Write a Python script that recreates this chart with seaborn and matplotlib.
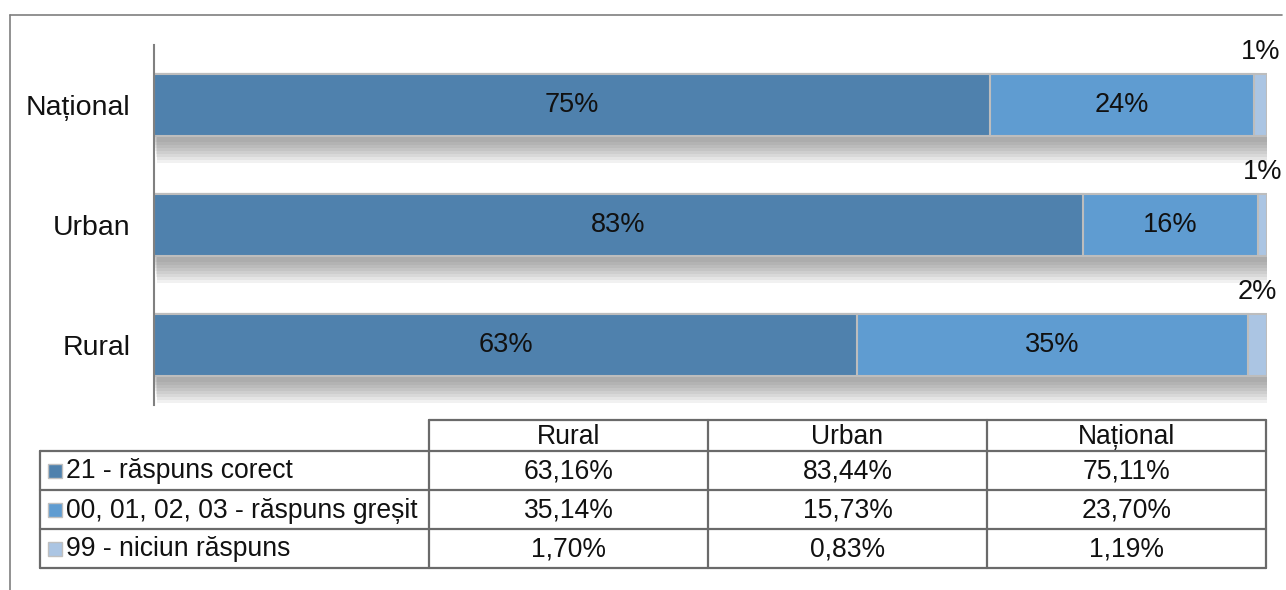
import numpy as np
import pandas as pd
import matplotlib
matplotlib.use("Agg")
import matplotlib.pyplot as plt
import matplotlib.patheffects as pe
from matplotlib.patches import Rectangle
import seaborn as sns

# ---------------- data ----------------
regions = ["Național", "Urban", "Rural"]
correct = [75.11, 83.44, 63.16]      # 21 - răspuns corect
wrong = [23.70, 15.73, 35.14]        # 00, 01, 02, 03 - răspuns greșit
no_answer = [1.19, 0.83, 1.70]       # 99 - niciun răspuns

series_names = ["21 - răspuns corect", "00, 01, 02, 03 - răspuns greșit", "99 - niciun răspuns"]
table_cols = ["Rural", "Urban", "Național"]

colors = ["#4F81AD", "#5F9CD1", "#ABC5E3"]
edge = "#BDBDBD"

sns.set_theme(style="white")
plt.rcParams["font.family"] = ["Liberation Sans", "DejaVu Sans"]
FS = 19.5
FS_CAT = 20.5
FS_TAB = 19.1

df = pd.DataFrame({"region": regions, "correct": correct, "wrong": wrong, "none": no_answer})
df["cum2"] = df["correct"] + df["wrong"]
df["cum3"] = df["cum2"] + df["none"]

W, H = 1286, 590
fig = plt.figure(figsize=(W / 100, H / 100), dpi=100)

def px(x0, y0, x1, y1):
    return [x0 / W, 1 - y1 / H, (x1 - x0) / W, (y1 - y0) / H]

ax = fig.add_axes(px(154, 45, 1267, 405))

bw = 0.51
sns.barplot(data=df, x="cum3", y="region", order=regions, orient="h", color=colors[2],
            width=bw, edgecolor=edge, linewidth=1.5, saturation=1, ax=ax)
sns.barplot(data=df, x="cum2", y="region", order=regions, orient="h", color=colors[1],
            width=bw, edgecolor=edge, linewidth=1.5, saturation=1, ax=ax)
sns.barplot(data=df, x="correct", y="region", order=regions, orient="h", color=colors[0],
            width=bw, edgecolor=edge, linewidth=1.5, saturation=1, ax=ax)

# soft shadow below the full bars (offsets in points)
shadow = []
for k in range(8):
    off_px = 6 + 3 * k
    shadow.append(pe.SimplePatchShadow(offset=(0.3 * k, -off_px * 0.72),
                                       shadow_rgbFace="#6A6A6A", alpha=0.09))
shadow.append(pe.Normal())
for p in ax.containers[0].patches:
    p.set_path_effects(shadow)

# labels
for i, r in df.iterrows():
    ax.text(r["correct"] / 2, i, f"{r['correct']:.0f}%", ha="center", va="center", fontsize=FS, color="#111111")
    ax.text(r["correct"] + r["wrong"] / 2, i, f"{r['wrong']:.0f}%", ha="center", va="center", fontsize=FS, color="#111111")
    ax.annotate(f"{r['none']:.0f}%", xy=(r["cum2"] + r["none"] / 2, i - bw / 2), xytext=(0, 7),
                textcoords="offset points", ha="center", va="bottom", fontsize=FS, color="#111111",
                annotation_clip=False)

ax.set_xlim(0, 100)
ax.set_ylim(2.5, -0.5)
ax.set_xlabel("")
ax.set_ylabel("")
ax.set_xticks([])
ax.tick_params(axis="y", length=0, pad=17, labelsize=FS_CAT, labelcolor="#111111")
for s in ["top", "right", "bottom"]:
    ax.spines[s].set_visible(False)
ax.spines["left"].set_color("#808080")
ax.spines["left"].set_linewidth(1.5)
ax.patch.set_alpha(0)

# ---------------- overlay: frame + data table ----------------
ov = fig.add_axes([0, 0, 1, 1])
ov.set_xlim(0, W)
ov.set_ylim(H, 0)
ov.axis("off")
ov.set_zorder(-1)

lc = "#6A6A6A"
ov.plot([10, 1282], [15, 15], color="#7F7F7F", lw=1.2)
ov.plot([10, 10], [15, 590], color="#7F7F7F", lw=1.2)

col_x = [40, 429, 708, 987, 1266]
row_y = [420, 451, 490, 529, 568]
tlw = 1.6
ov.plot([col_x[1], col_x[-1]], [row_y[0], row_y[0]], color=lc, lw=tlw)
for y in row_y[1:]:
    ov.plot([col_x[0], col_x[-1]], [y, y], color=lc, lw=tlw)
ov.plot([col_x[0], col_x[0]], [row_y[1], row_y[-1]], color=lc, lw=tlw)
for x in col_x[1:]:
    ov.plot([x, x], [row_y[0], row_y[-1]], color=lc, lw=tlw)

for j, name in enumerate(table_cols):
    ov.text((col_x[j + 1] + col_x[j + 2]) / 2, (row_y[0] + row_y[1]) / 2 + 1, name,
            ha="center", va="center", fontsize=FS_TAB, color="#111111")

vals_by_series = [correct, wrong, no_answer]
for s, (name, vals) in enumerate(zip(series_names, vals_by_series)):
    yc = (row_y[s + 1] + row_y[s + 2]) / 2
    ov.add_patch(Rectangle((48, yc - 7), 14, 14, facecolor=colors[s], edgecolor="#BFBFBF", lw=1))
    ov.text(66, yc + 1, name, ha="left", va="center", fontsize=FS_TAB, color="#111111")
    for j, cname in enumerate(table_cols):
        v = vals[regions.index(cname)]
        ov.text((col_x[j + 1] + col_x[j + 2]) / 2, yc + 1, f"{v:.2f}%".replace(".", ","),
                ha="center", va="center", fontsize=FS_TAB, color="#111111")

fig.savefig("out.png", dpi=100)
